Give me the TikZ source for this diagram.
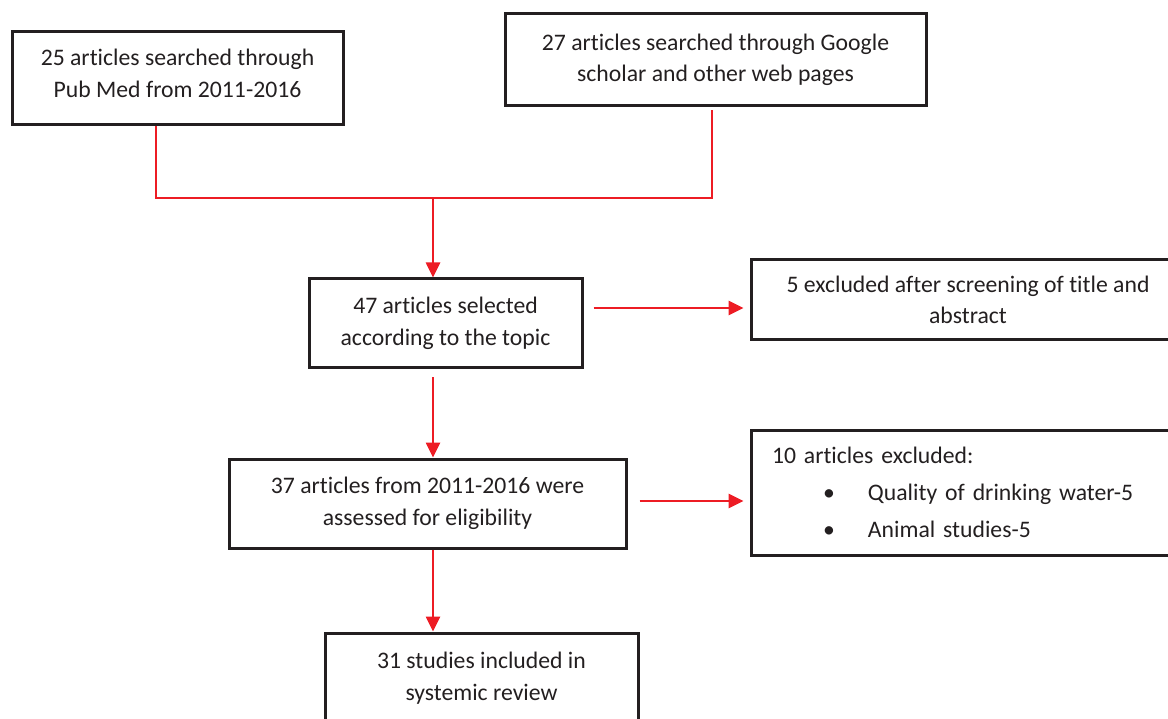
\documentclass[tikz,border=0pt]{standalone}
\usepackage{fontspec}
\setmainfont{Carlito}[Ligatures=CommonOff]
\usetikzlibrary{arrows.meta,calc}
\definecolor{lred}{HTML}{ED1C24}
\definecolor{ink}{HTML}{231F20}
\begin{document}
\begin{tikzpicture}[x=1pt,y=1pt,
  box/.style={draw=ink, line width=3pt, text=ink, align=center, inner sep=0pt,
              font=\fontsize{23.7}{31.5}\selectfont},
  link/.style={draw=lred, line width=2.6pt},
  arr/.style={link, -{Triangle[length=15pt,width=14pt]}}]
\useasboundingbox (0,0) rectangle (1168,-719);

\node[box, minimum width=331, minimum height=93] (b1) at (177.5,-78.5)
  {25 articles searched through\\Pub Med from 2011-2016\rule[-10pt]{0pt}{0pt}};
\node[box, minimum width=421, minimum height=92] (b2) at (715.5,-60)
  {27 articles searched through Google\\scholar and other web pages};
\node[box, minimum width=273, minimum height=89] (b3) at (445.5,-323.5)
  {47 articles selected\\according to the topic};
\node[box, minimum width=434, minimum height=80] (b4) at (968,-300)
  {5 excluded after screening of title and\\abstract};
\node[box, minimum width=397, minimum height=89] (b5) at (427.5,-503.5)
  {37 articles from 2011-2016 were\\assessed for eligibility};
\node[box, minimum width=434, minimum height=125, text width=392, align=left] (b6) at (968,-492.5)
  {10 articles excluded:\\[5.5pt]
   \hspace*{51pt}\makebox[45pt][l]{\textbullet}Quality of drinking water-5\\[5.5pt]
   \hspace*{51pt}\makebox[45pt][l]{\textbullet}Animal studies-5};
\node[box, minimum width=313, minimum height=90] (b7) at (481.5,-678)
  {31 studies included in\\systemic review};

\coordinate (j1) at (156,-198);
\coordinate (j2) at (712,-198);
\coordinate (j) at (433,-198);
\coordinate (h1) at (0,-308);
\coordinate (h2) at (0,-501);

\draw[link] (b1.south -| j1) -- (j1) -- (j2) -- ([yshift=-3pt]b2.south -| j2);
\draw[arr] (j) -- (b3.north -| j);
\draw[arr] ([yshift=-8pt]b3.south -| j) -- (b5.north -| j);
\draw[arr] (b5.south -| j) -- (b7.north -| j);
\draw[arr] ([xshift=10pt]b3.east |- h1) -- ([xshift=-6pt]b4.west |- h1);
\draw[arr] ([xshift=12pt]b5.east |- h2) -- ([xshift=-6pt]b6.west |- h2);
\end{tikzpicture}
\end{document}
